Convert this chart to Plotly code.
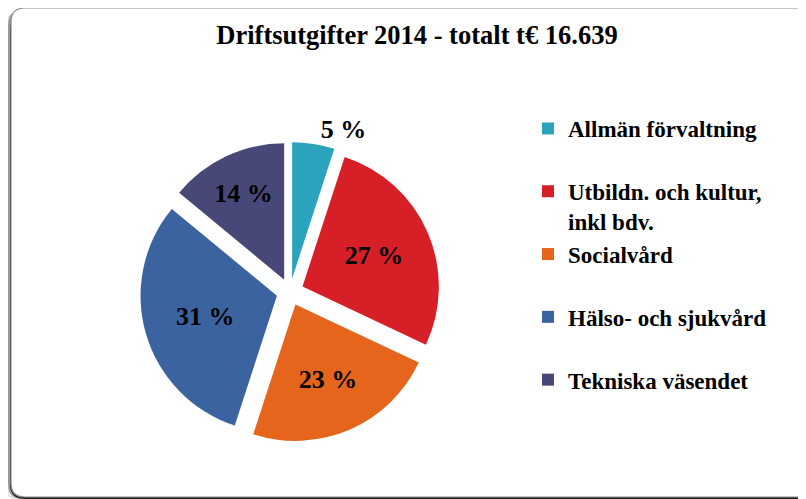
import plotly.graph_objects as go

categories = ["Allmän förvaltning", "Utbildn. och kultur,<br>inkl bdv.", "Socialvård",
              "Hälso- och sjukvård", "Tekniska väsendet"]
values = [5, 27, 23, 31, 14]
colors = ["#2BA3BD", "#D71F28", "#E6651C", "#3A63A0", "#474877"]
title_text = "Driftsutgifter 2014 - totalt t€ 16.639"

# The page body has an 8px margin, so the figure is placed at (8, 8).
OFF = 8
W, H = 806 - OFF, 499 - OFF
FONT = "Liberation Serif, Times New Roman, serif"


def X(px):
    return (px - OFF) / W


def Y(py):
    return 1 - (py - OFF) / H


# legend labels padded to two lines so the items are evenly spaced
legend_labels = [c if "<br>" in c else c + "<br> " for c in categories]
text_labels = [f"{v} %" for v in values]
positions = ["outside"] + ["inside"] * (len(values) - 1)

cx, cy, rad = 290, 292, 150

fig = go.Figure()
fig.add_trace(go.Pie(
    labels=legend_labels,
    values=values,
    text=text_labels,
    textinfo="text",
    textposition=positions,
    insidetextorientation="horizontal",
    sort=False,
    direction="clockwise",
    rotation=0,
    pull=[0.1] * len(values),
    marker=dict(colors=colors, line=dict(width=0)),
    textfont=dict(family=FONT, size=26, color="#000000", weight="bold"),
    domain=dict(x=[X(cx - rad), X(cx + rad)], y=[Y(cy + rad), Y(cy - rad)]),
    hoverinfo="label+percent",
))


def rounded_path(x0, y0, x1, y1, r):
    def P(x, y):
        return f"{X(x):.5f},{Y(y):.5f}"
    return (f"M{P(x0 + r, y0)} L{P(x1 - r, y0)} Q{P(x1, y0)} {P(x1, y0 + r)} "
            f"L{P(x1, y1 - r)} Q{P(x1, y1)} {P(x1 - r, y1)} L{P(x0 + r, y1)} "
            f"Q{P(x0, y1)} {P(x0, y1 - r)} L{P(x0, y0 + r)} Q{P(x0, y0)} {P(x0 + r, y0)} Z")


shapes = [
    dict(type="path", xref="paper", yref="paper", layer="below",
         path=rounded_path(4, 12, 812, 500, 16), fillcolor="#e4e4e4", line=dict(width=0)),
    dict(type="path", xref="paper", yref="paper", layer="below",
         path=rounded_path(8, 10, 812, 499, 15), fillcolor="#9a9a9a", line=dict(width=0)),
    dict(type="path", xref="paper", yref="paper", layer="below",
         path=rounded_path(10, 14, 812, 499, 15), fillcolor="#202020", line=dict(width=0)),
    dict(type="path", xref="paper", yref="paper", layer="below",
         path=rounded_path(11, 8, 812, 497, 14), fillcolor="#ffffff",
         line=dict(color="#8c8c8c", width=1.2)),
]

fig.update_layout(
    width=W, height=H,
    margin=dict(l=0, r=0, t=0, b=0),
    paper_bgcolor="#ffffff",
    plot_bgcolor="#ffffff",
    shapes=shapes,
    title=dict(text=title_text, x=X(417), xanchor="center", y=Y(35), yanchor="middle",
               font=dict(family=FONT, size=26.5, color="#000000", weight="bold")),
    legend=dict(x=X(528), xanchor="left", y=Y(107), yanchor="top",
                valign="top", bgcolor="rgba(0,0,0,0)",
                font=dict(family=FONT, size=23, color="#000000", weight="bold")),
    showlegend=True,
)

fig.write_html("out.html")
